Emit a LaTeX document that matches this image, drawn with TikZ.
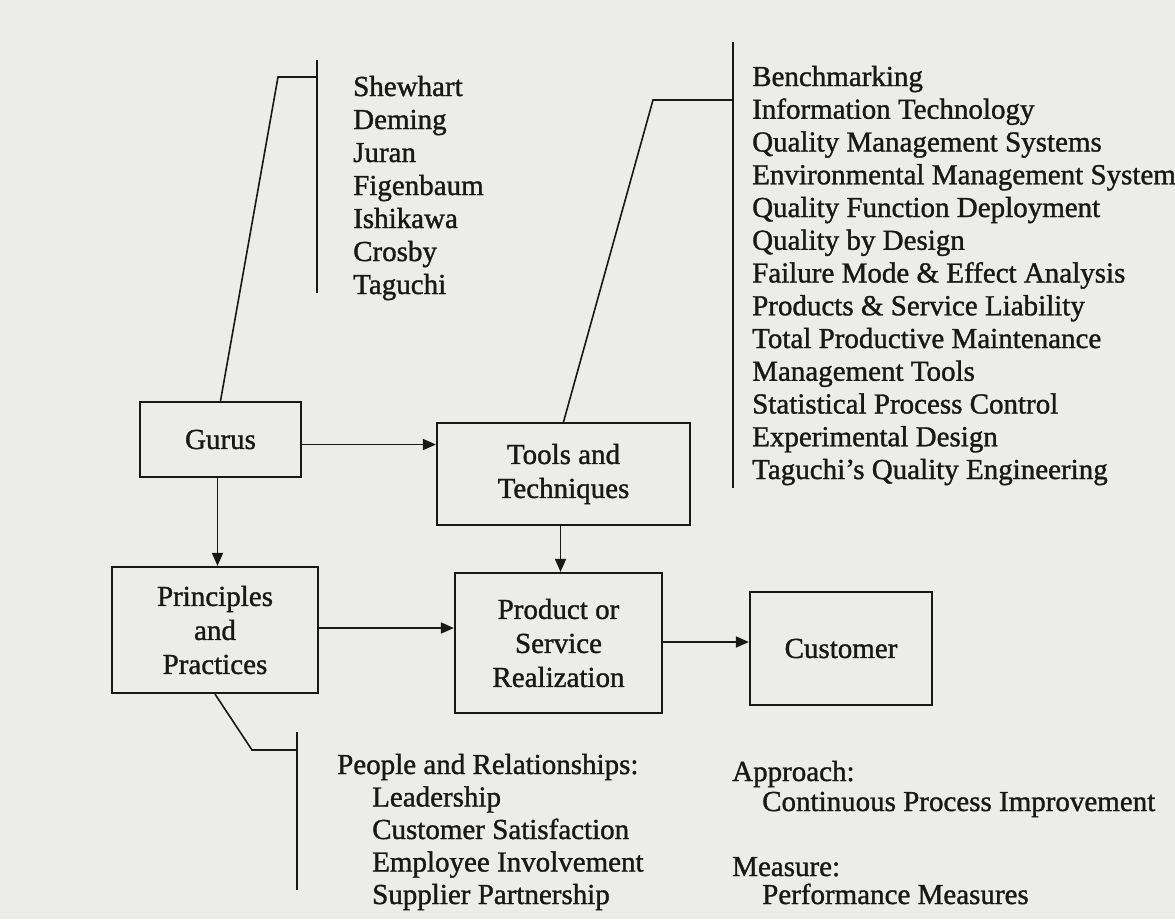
\documentclass[tikz,border=0pt]{standalone}
\usepackage{fontspec}
\setmainfont{Liberation Serif}[FakeBold=1.2]
\usetikzlibrary{arrows.meta}
\definecolor{paper}{RGB}{236,236,234}
\definecolor{ink}{RGB}{24,24,24}
\begin{document}
\begin{tikzpicture}[x=1pt,y=-1pt,
  every node/.style={text=ink, font=\fontsize{29}{34}\selectfont},
  box/.style={draw=ink, line width=2.2pt, inner sep=0pt, align=center},
  link/.style={draw=ink, line width=1.6pt},
  arr/.style={link, -{Triangle[length=13pt,width=11pt]}},
  item/.style={anchor=base west, inner sep=0pt}]
\fill[paper] (0,0) rectangle (1175,919);
\useasboundingbox (0,0) rectangle (1175,919);

% main blocks
\node[box, minimum width=161pt, minimum height=75pt]  (gurus) at (220.5,439.5) {Gurus};
\node[box, minimum width=253pt, minimum height=102pt] (tools) at (563.5,474) {Tools and\\Techniques};
\node[box, minimum width=206pt, minimum height=126pt] (pp)    at (215,630) {Principles\\and\\Practices};
\node[box, minimum width=207pt, minimum height=140pt] (psr)   at (558.5,643) {Product or\\Service\\Realization};
\node[box, minimum width=182pt, minimum height=113pt] (cust)  at (841,648.5) {Customer};

% flow arrows
\draw[arr] ([yshift=-5pt]gurus.east) coordinate (a1) -- (a1 -| tools.west);
\draw[arr] ([xshift=-3pt]gurus.south) coordinate (a2) -- (a2 |- pp.north);
\draw[arr] ([yshift=2pt]pp.east) coordinate (a3) -- (a3 -| psr.west);
\draw[arr] ([xshift=-3pt]tools.south) coordinate (a4) -- (a4 |- psr.north);
\draw[arr] ([yshift=1pt]psr.east) coordinate (a5) -- (a5 -| cust.west);

% gurus list and its bracket
\coordinate (gtop) at (317,60);
\coordinate (gbot) at (317,293);
\coordinate (gknee) at (278,77);
\draw[link] (gtop) -- (gbot);
\draw[link] (gurus.north) -- (gknee) -- (gknee -| gtop);
\foreach \t [count=\i] in {Shewhart,Deming,Juran,Figenbaum,Ishikawa,Crosby,Taguchi}
  \node[item] (guru\i) at (353,63+33*\i) {\t};

% tools list and its bracket
\coordinate (ttop) at (733,42);
\coordinate (tbot) at (733,488);
\coordinate (tknee) at (653,100);
\draw[link] (ttop) -- (tbot);
\draw[link] (tools.north) -- (tknee) -- (tknee -| ttop);
\foreach \t [count=\i] in {Benchmarking,Information Technology,Quality Management Systems,
  Environmental Management System,Quality Function Deployment,Quality by Design,
  Failure Mode \& Effect Analysis,Products \& Service Liability,Total Productive Maintenance,
  Management Tools,Statistical Process Control,Experimental Design,Taguchi's Quality Engineering}
  \node[item] (tool\i) at (752,53.25+32.75*\i) {\t};

% people list and its bracket
\coordinate (ptop) at (297,732);
\coordinate (pbot) at (297,890);
\coordinate (pknee) at (252,750);
\draw[link] (ptop) -- (pbot);
\draw[link] (pp.south) -- (pknee) -- (pknee -| ptop);
\node[item] (people) at (337,774) {People and Relationships:};
\foreach \t [count=\i] in {Leadership,Customer Satisfaction,Employee Involvement,Supplier Partnership}
  \node[item] (person\i) at (372,774+32.5*\i) {\t};

% approach and measure notes
\node[item] (approach) at (732,781) {Approach:};
\node[item] (cpi) at (762,811) {Continuous Process Improvement};
\node[item] (measure) at (732,876) {Measure:};
\node[item] (perf) at (762,904) {Performance Measures};
\end{tikzpicture}
\end{document}
